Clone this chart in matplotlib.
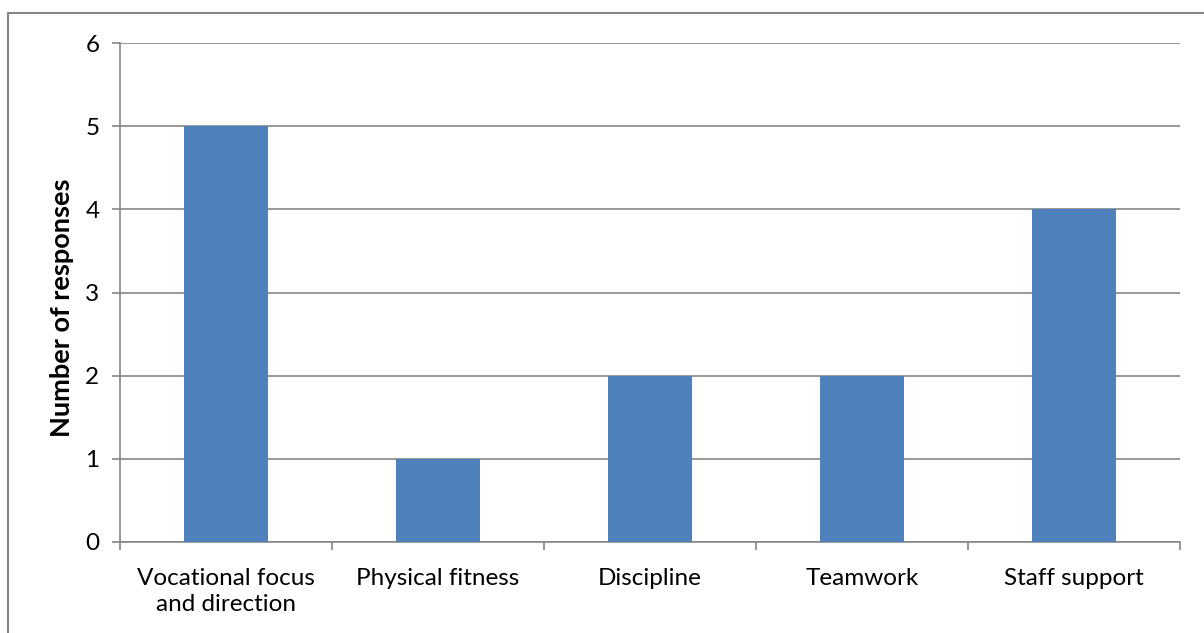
import matplotlib.pyplot as plt
from matplotlib.patches import Rectangle

categories = ['Vocational focus\nand direction', 'Physical fitness', 'Discipline', 'Teamwork', 'Staff support']
responses = [5, 1, 2, 2, 4]

plt.rcParams['font.family'] = ['Lato', 'DejaVu Sans']

fig = plt.figure(figsize=(12.04, 6.33), dpi=100)
W, H = 1204, 633
ax = fig.add_axes([120 / W, 1 - 542 / H, (1180 - 120) / W, (542 - 43) / H])

grid_col = '#868686'
x = list(range(len(categories)))
ax.bar(x, responses, width=0.4, color='#4F81BD', zorder=3)
ax.set_xlim(-0.5, len(categories) - 0.5)
ax.set_ylim(0, 6)
ax.set_yticks(range(0, 7))
ax.yaxis.grid(True, color=grid_col, linewidth=1.2)
ax.set_axisbelow(True)

ax.set_xticks(x)
ax.set_xticklabels(categories, fontsize=17.5, linespacing=1.3)
ax.tick_params(axis='x', length=0, pad=19)
ax.set_xticks([i - 0.5 for i in range(len(categories) + 1)], minor=True)
ax.tick_params(axis='x', which='minor', length=5.8, color=grid_col, width=1.2)
ax.tick_params(axis='y', length=5.8, color=grid_col, width=1.2, labelsize=17.5, pad=9)

for s in ['top', 'right']:
    ax.spines[s].set_visible(False)
for s in ['left', 'bottom']:
    ax.spines[s].set_color(grid_col)
    ax.spines[s].set_linewidth(1.2)

ax.set_ylabel('Number of responses', fontsize=19.5, fontweight='bold')
ax.yaxis.set_label_coords(-0.043, 0.47)

fig.patches.append(Rectangle((8 / W, -0.1), 1.2, 1 - 13 / H + 0.1, transform=fig.transFigure,
                             fill=False, edgecolor=grid_col, linewidth=1.5))

fig.savefig('out.png', dpi=100)
